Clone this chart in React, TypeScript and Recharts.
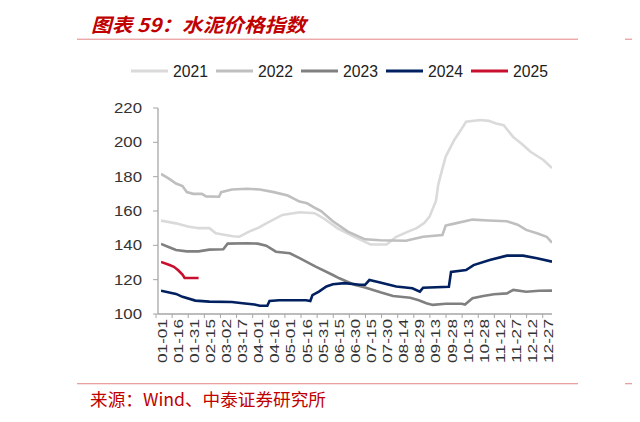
import React from 'react';
import { LineChart, Line, XAxis, YAxis } from 'recharts';

const seriesNames = ['2021', '2022', '2023', '2024', '2025'];
const seriesColors = ['#dadada', '#bfbfbf', '#808080', '#002060', '#c8102e'];

// day of year (0 = 01-01) and index value for each series
const days2021 = [0, 14, 25, 35, 45, 51, 60, 67, 73, 82, 91, 98, 113, 129, 143, 152, 164, 180, 190, 195, 210, 219, 230, 238, 245, 250, 256, 258, 260, 265, 273, 280, 284, 297, 305, 312, 319, 328, 336, 344, 356, 364];
const values2021 = [154.4, 152.8, 151, 150, 150, 147, 146, 145.3, 145, 148, 150.3, 152.8, 157.7, 159.3, 158.7, 155.5, 150, 145, 142, 140.5, 140.5, 145, 148, 150, 153, 156.7, 166, 175, 180, 191.6, 201.4, 208, 212, 213, 212.5, 211, 210, 203, 199, 194.5, 189.7, 185];

const days2022 = [0, 7, 14, 20, 24, 30, 38, 42, 54, 56, 66, 80, 92, 105, 118, 129, 136, 144, 149, 160, 174, 190, 204, 228, 244, 262, 265, 272, 290, 305, 322, 332, 340, 350, 359, 364];
const values2022 = [181.6, 179, 176, 174.5, 171, 170, 170, 168.5, 168.3, 171, 172.5, 173, 172.5, 171, 169, 165.5, 164.5, 161.6, 160, 154, 148, 143.5, 143, 142.7, 145, 146, 151.5, 152.5, 155, 154.5, 154, 152, 149, 147, 145, 141.5];

const days2023 = [0, 7, 14, 24, 35, 45, 58, 62, 80, 90, 98, 107, 120, 129, 144, 160, 166, 180, 190, 205, 216, 232, 240, 247, 253, 265, 280, 283, 290, 300, 310, 322, 328, 340, 352, 364];
const values2023 = [140.8, 139, 137.3, 136.5, 136.5, 137.5, 137.7, 141, 141.2, 141, 139.8, 136.3, 135.4, 132.5, 127.6, 122.7, 120.8, 117, 115.5, 112.5, 110.5, 109.5, 108, 106.3, 105.3, 106, 106, 105.5, 109.2, 110.5, 111.5, 112, 114, 113, 113.5, 113.6];

const days2024 = [0, 14, 20, 32, 45, 66, 76, 87, 92, 99, 101, 110, 135, 139, 141, 147, 154, 160, 171, 185, 190, 194, 204, 219, 234, 241, 244, 268, 270, 284, 291, 306, 322, 337, 350, 364];
const values2024 = [113.6, 111.7, 110, 107.8, 107.2, 107, 106.3, 105.5, 104.8, 104.8, 107.6, 108, 108, 107.6, 111, 113, 116, 117.3, 118, 117, 117, 119.8, 118.3, 116, 115, 113, 115.3, 115.9, 124.5, 125.6, 128.5, 131.5, 134, 134, 132.5, 130.5];

const days2025 = [0, 8, 12, 16, 20, 22, 35];
const values2025 = [130.3, 128.5, 127.5, 125.5, 123, 121, 121];

const seriesDays = [days2021, days2022, days2023, days2024, days2025];
const seriesValues = [values2021, values2022, values2023, values2024, values2025];

const tickDays = [0, 15, 30, 45, 60, 75, 90, 105, 120, 135, 150, 165, 180, 195, 210, 225, 240, 255, 270, 285, 300, 315, 330, 345, 360];
const tickLabels = ['01-01', '01-16', '01-31', '02-15', '03-02', '03-17', '04-01', '04-16', '05-01', '05-16', '05-31', '06-15', '06-30', '07-15', '07-30', '08-14', '08-29', '09-13', '09-28', '10-13', '10-28', '11-12', '11-27', '12-12', '12-27'];
const yTicks = [100, 120, 140, 160, 180, 200, 220];

const titleText = '图表 59：水泥价格指数';
const sourceText = '来源：Wind、中泰证券研究所';

const FONT = '"Liberation Sans", Arial, sans-serif';
const CJK = '"Noto Sans CJK SC", "Noto Sans", sans-serif';
const AXIS = '#a6a6a6';

const XTick = (props: any) => {
  const { x, y, payload } = props;
  const idx = tickDays.indexOf(payload.value);
  const label = idx >= 0 ? tickLabels[idx] : '';
  return (
    <g>
      <line x1={x - 5} x2={x - 5} y1={y - 5} y2={y - 1} stroke={AXIS} strokeWidth={1} />
      <text
        x={0}
        y={0}
        transform={`translate(${x + 5.5},${y}) rotate(-90)`}
        textAnchor="end"
        fontSize={12}
        fontFamily={FONT}
        fill="#333"
        textLength={44}
        lengthAdjust="spacingAndGlyphs"
      >
        {label}
      </text>
    </g>
  );
};

const YTick = (props: any) => {
  const { x, y, payload } = props;
  return (
    <text
      x={x}
      y={y}
      dy={5}
      textAnchor="end"
      fontSize={14}
      fontFamily={FONT}
      fill="#333"
      textLength={28}
      lengthAdjust="spacingAndGlyphs"
    >
      {payload.value}
    </text>
  );
};

export default function App() {
  const seriesData = seriesNames.map((_, s) =>
    seriesDays[s].map((d, i) => ({ day: d, value: seriesValues[s][i] }))
  );
  return (
    <div style={{ position: 'relative', width: 640, height: 422, margin: -8, background: '#fff', overflow: 'hidden' }}>
      <svg width={640} height={422} style={{ position: 'absolute', left: 0, top: 0 }}>
        <rect x={77} y={5} width={501} height={2.6} fill="#c00000" />
        <rect x={625} y={5} width={15} height={2.6} fill="#c00000" />
        <rect x={77} y={38.6} width={501} height={1.3} fill="#eaa0a0" />
        <rect x={625} y={38.6} width={15} height={1.3} fill="#eaa0a0" />
        <text
          x={91}
          y={32}
          fontSize={19}
          fontWeight="bold"
          fontStyle="italic"
          fontFamily={CJK}
          fill="#c00000"
          textLength={215}
          lengthAdjust="spacingAndGlyphs"
        >
          {titleText}
        </text>
        {seriesNames.map((name, i) => {
          const x0 = 131 + i * 85;
          return (
            <g key={name}>
              <line x1={x0} x2={x0 + 37} y1={71} y2={71} stroke={seriesColors[i]} strokeWidth={3} />
              <text
                x={x0 + 42}
                y={77}
                fontSize={17}
                fontFamily={FONT}
                fill="#222"
                textLength={35}
                lengthAdjust="spacingAndGlyphs"
              >
                {name}
              </text>
            </g>
          );
        })}
        <rect x={77} y={383} width={501} height={1.3} fill="#eaa0a0" />
        <rect x={625} y={383} width={15} height={1.3} fill="#eaa0a0" />
        <text
          x={90}
          y={406}
          fontSize={17}
          fontFamily={CJK}
          fill="#c00000"
          textLength={236}
          lengthAdjust="spacingAndGlyphs"
        >
          {sourceText}
        </text>
      </svg>
      <div style={{ position: 'absolute', left: 0, top: 0 }}>
        <LineChart width={640} height={422} margin={{ top: 108, right: 88, bottom: 58, left: 108 }}>
          <XAxis
            type="number"
            dataKey="day"
            domain={[0, 364]}
            ticks={tickDays}
            interval={0}
            padding={{ left: 3, right: 0 }}
            height={50}
            tickSize={0}
            tickMargin={5}
            tick={<XTick />}
            axisLine={{ stroke: AXIS, strokeWidth: 1.3 }}
            allowDataOverflow
          />
          <YAxis
            type="number"
            domain={[100, 220]}
            ticks={yTicks}
            interval={0}
            width={50}
            tickSize={5}
            tickMargin={11}
            tick={<YTick />}
            axisLine={{ stroke: AXIS, strokeWidth: 1.3 }}
            tickLine={{ stroke: AXIS }}
          />
          {seriesNames.map((name, s) => (
            <Line
              key={name}
              data={seriesData[s]}
              dataKey="value"
              name={name}
              type="linear"
              stroke={seriesColors[s]}
              strokeWidth={2.6}
              dot={false}
              activeDot={false}
              isAnimationActive={false}
            />
          ))}
        </LineChart>
      </div>
    </div>
  );
}
